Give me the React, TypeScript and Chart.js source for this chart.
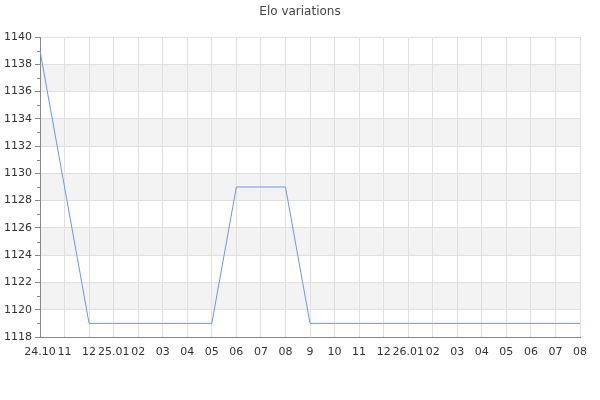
import React, { useEffect, useRef } from "react";
import { Chart, registerables } from "chart.js";

Chart.register(...registerables);

const titleText = "Elo variations";
const categories = ["24.10", "11", "12", "25.01", "02", "03", "04", "05", "06", "07", "08", "9", "10", "11", "12", "26.01", "02", "03", "04", "05", "06", "07", "08"];
const eloValues = [1139, 1129, 1119, 1119, 1119, 1119, 1119, 1119, 1129, 1129, 1129, 1119, 1119, 1119, 1119, 1119, 1119, 1119, 1119, 1119, 1119, 1119, 1119];
const yMin = 1118;
const yMax = 1140;
const yStep = 2;
const bandRanges = [[1120, 1122], [1124, 1126], [1128, 1130], [1132, 1134], [1136, 1138]];
const minorTickValues = [1119, 1121, 1123, 1125, 1127, 1129, 1131, 1133, 1135, 1137, 1139];

const FONT = "'DejaVu Sans', sans-serif";

const decorPlugin = {
  id: "decor",
  beforeDraw(chart: any) {
    const { ctx, chartArea, scales } = chart;
    const y = scales.y;
    ctx.save();
    ctx.fillStyle = "#f3f3f3";
    for (const [a, b] of bandRanges) {
      const y1 = y.getPixelForValue(b);
      const y2 = y.getPixelForValue(a);
      ctx.fillRect(chartArea.left, y1, chartArea.right - chartArea.left, y2 - y1);
    }
    ctx.restore();
  },
  afterDraw(chart: any) {
    const { ctx, chartArea, scales } = chart;
    const y = scales.y;
    ctx.save();
    ctx.strokeStyle = "#888888";
    ctx.lineWidth = 1;
    for (const v of minorTickValues) {
      const py = Math.round(y.getPixelForValue(v)) + 0.5;
      ctx.beginPath();
      ctx.moveTo(chartArea.left - 3, py);
      ctx.lineTo(chartArea.left, py);
      ctx.stroke();
    }
    ctx.fillStyle = "#444444";
    ctx.font = `12px ${FONT}`;
    ctx.textAlign = "center";
    ctx.textBaseline = "middle";
    ctx.fillText(titleText, 300, 12);
    ctx.restore();
  },
};

export default function App() {
  const ref = useRef<HTMLCanvasElement | null>(null);
  useEffect(() => {
    document.body.style.margin = "0";
    const chart = new Chart(ref.current!, {
      type: "line",
      data: {
        labels: categories,
        datasets: [
          {
            data: eloValues,
            borderColor: "#6a97ea",
            borderWidth: 1,
            pointRadius: 0,
            tension: 0,
            fill: false,
          },
        ],
      },
      options: {
        animation: false,
        responsive: false,
        layout: { padding: { top: 37, right: 20, left: 0, bottom: 0 } },
        plugins: { legend: { display: false }, title: { display: false }, tooltip: { enabled: false } },
        scales: {
          x: {
            type: "category",
            offset: false,
            grid: { color: "#e0e0e0", drawTicks: false, lineWidth: 1 },
            border: { color: "#888888", width: 1 },
            ticks: {
              autoSkip: false,
              maxRotation: 0,
              minRotation: 0,
              padding: 9,
              color: "#333333",
              font: { family: FONT, size: 11 },
            },
            afterFit(scale: any) {
              scale.height = 63;
            },
          },
          y: {
            min: yMin,
            max: yMax,
            ticks: {
              stepSize: yStep,
              padding: 3,
              color: "#333333",
              font: { family: FONT, size: 11 },
              callback: (v: any) => String(v),
            },
            grid: { color: "#e0e0e0", tickColor: "#888888", tickLength: 5, lineWidth: 1 },
            border: { color: "#888888", width: 1 },
            afterFit(scale: any) {
              scale.width = 40;
            },
          },
        },
      },
      plugins: [decorPlugin],
    } as any);
    return () => chart.destroy();
  }, []);
  return (
    <div style={{ width: 600, height: 400 }}>
      <canvas ref={ref} width={600} height={400} />
    </div>
  );
}
